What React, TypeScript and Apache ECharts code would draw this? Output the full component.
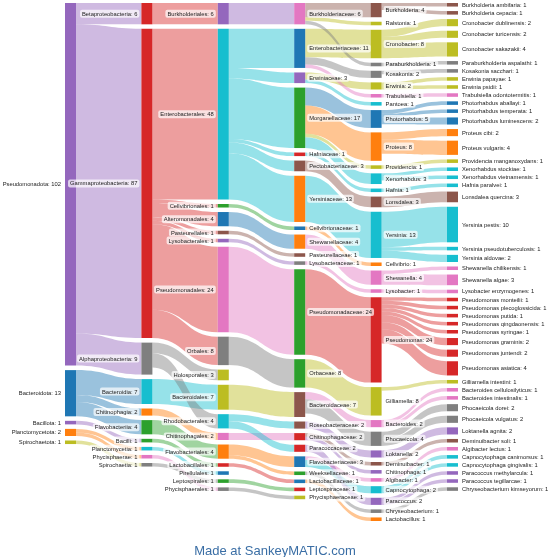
import React, { useEffect, useRef } from "react";
import * as echarts from "echarts";

type Flow = [string, string, number];

const phylumToClass: Flow[] = [
  ["Pseudomonadota", "Betaproteobacteria", 6],
  ["Pseudomonadota", "Gammaproteobacteria", 87],
  ["Pseudomonadota", "Alphaproteobacteria", 9],
  ["Bacteroidota", "Bacteroidia", 7],
  ["Bacteroidota", "Chitinophagia", 2],
  ["Bacteroidota", "Flavobacteriia", 4],
  ["Bacillota", "Bacilli", 1],
  ["Planctomycetota", "Planctomycetia", 1],
  ["Planctomycetota", "Phycisphaerae", 1],
  ["Spirochaetota", "Spirochaetia", 1],
];

const classToOrder: Flow[] = [
  ["Betaproteobacteria", "Burkholderiales", 6],
  ["Gammaproteobacteria", "Enterobacterales", 48],
  ["Gammaproteobacteria", "Cellvibrionales", 1],
  ["Gammaproteobacteria", "Alteromonadales", 4],
  ["Gammaproteobacteria", "Pasteurellales", 1],
  ["Gammaproteobacteria", "Lysobacterales", 1],
  ["Gammaproteobacteria", "Pseudomonadales", 24],
  ["Gammaproteobacteria", "Orbales", 8],
  ["Alphaproteobacteria", "Holosporales", 3],
  ["Bacteroidia", "Bacteroidales", 7],
  ["Alphaproteobacteria", "Rhodobacterales", 4],
  ["Chitinophagia", "Chitinophagales", 2],
  ["Flavobacteriia", "Flavobacteriales", 4],
  ["Bacilli", "Lactobacillales", 1],
  ["Planctomycetia", "Pirellulales", 1],
  ["Spirochaetia", "Leptospirales", 1],
  ["Phycisphaerae", "Phycisphaerales", 1],
];

const orderToFamily: Flow[] = [
  ["Burkholderiales", "Burkholderiaceae", 6],
  ["Enterobacterales", "Enterobacteriaceae", 11],
  ["Enterobacterales", "Erwiniaceae", 3],
  ["Enterobacterales", "Morganellaceae", 17],
  ["Enterobacterales", "Hafniaceae", 1],
  ["Enterobacterales", "Pectobacteriaceae", 3],
  ["Enterobacterales", "Yersiniaceae", 13],
  ["Cellvibrionales", "Cellvibrionaceae", 1],
  ["Alteromonadales", "Shewanellaceae", 4],
  ["Pasteurellales", "Pasteurellaceae", 1],
  ["Lysobacterales", "Lysobacteraceae", 1],
  ["Pseudomonadales", "Pseudomonadaceae", 24],
  ["Orbales", "Orbaceae", 8],
  ["Bacteroidales", "Bacteroidaceae", 7],
  ["Rhodobacterales", "Roseobacteraceae", 2],
  ["Chitinophagales", "Chitinophagaceae", 2],
  ["Rhodobacterales", "Paracoccaceae", 2],
  ["Flavobacteriales", "Flavobacteriaceae", 3],
  ["Flavobacteriales", "Weeksellaceae", 1],
  ["Lactobacillales", "Lactobacillaceae", 1],
  ["Leptospirales", "Leptospiraceae", 1],
  ["Phycisphaerales", "Phycisphaeraceae", 1],
];

const familyToGenus: Flow[] = [
  ["Burkholderiaceae", "Burkholderia", 4],
  ["Burkholderiaceae", "Ralstonia", 1],
  ["Enterobacteriaceae", "Cronobacter", 8],
  ["Burkholderiaceae", "Paraburkholderia", 1],
  ["Enterobacteriaceae", "Kosakonia", 2],
  ["Erwiniaceae", "Erwinia", 2],
  ["Enterobacteriaceae", "Trabulsiella", 1],
  ["Erwiniaceae", "Pantoea", 1],
  ["Morganellaceae", "Photorhabdus", 5],
  ["Morganellaceae", "Proteus", 8],
  ["Morganellaceae", "Providencia", 1],
  ["Morganellaceae", "Xenorhabdus", 3],
  ["Hafniaceae", "Hafnia", 1],
  ["Pectobacteriaceae", "Lonsdalea", 3],
  ["Yersiniaceae", "Yersinia", 13],
  ["Cellvibrionaceae", "Cellvibrio", 1],
  ["Shewanellaceae", "Shewanella", 4],
  ["Lysobacteraceae", "Lysobacter", 1],
  ["Pseudomonadaceae", "Pseudomonas", 24],
  ["Orbaceae", "Gilliamella", 8],
  ["Bacteroidaceae", "Bacteroides", 2],
  ["Bacteroidaceae", "Phocaeicola", 4],
  ["Roseobacteraceae", "Loktanella", 2],
  ["Chitinophagaceae", "Deminuibacter", 1],
  ["Chitinophagaceae", "Chitinophaga", 1],
  ["Flavobacteriaceae", "Algibacter", 1],
  ["Flavobacteriaceae", "Capnocytophaga", 2],
  ["Paracoccaceae", "Paracoccus", 2],
  ["Weeksellaceae", "Chryseobacterium", 1],
  ["Lactobacillaceae", "Lactobacillus", 1],
];

const genusToSpecies: Flow[] = [
  ["Burkholderia", "Burkholderia ambifaria", 1],
  ["Burkholderia", "Burkholderia cepacia", 1],
  ["Cronobacter", "Cronobacter dublinensis", 2],
  ["Cronobacter", "Cronobacter turicensis", 2],
  ["Cronobacter", "Cronobacter sakazakii", 4],
  ["Paraburkholderia", "Paraburkholderia aspalathi", 1],
  ["Kosakonia", "Kosakonia sacchari", 1],
  ["Erwinia", "Erwinia papayae", 1],
  ["Erwinia", "Erwinia psidii", 1],
  ["Trabulsiella", "Trabulsiella odontotermitis", 1],
  ["Photorhabdus", "Photorhabdus aballayi", 1],
  ["Photorhabdus", "Photorhabdus temperata", 1],
  ["Photorhabdus", "Photorhabdus luminescens", 2],
  ["Proteus", "Proteus cibi", 2],
  ["Proteus", "Proteus vulgaris", 4],
  ["Providencia", "Providencia manganoxydans", 1],
  ["Xenorhabdus", "Xenorhabdus stockiae", 1],
  ["Xenorhabdus", "Xenorhabdus vietnamensis", 1],
  ["Hafnia", "Hafnia paralvei", 1],
  ["Lonsdalea", "Lonsdalea quercina", 3],
  ["Yersinia", "Yersinia pestis", 10],
  ["Yersinia", "Yersinia pseudotuberculosis", 1],
  ["Yersinia", "Yersinia aldovae", 2],
  ["Shewanella", "Shewanella chilikensis", 1],
  ["Shewanella", "Shewanella algae", 3],
  ["Lysobacter", "Lysobacter enzymogenes", 1],
  ["Pseudomonas", "Pseudomonas monteilii", 1],
  ["Pseudomonas", "Pseudomonas plecoglossicida", 1],
  ["Pseudomonas", "Pseudomonas putida", 1],
  ["Pseudomonas", "Pseudomonas qingdaonensis", 1],
  ["Pseudomonas", "Pseudomonas syringae", 1],
  ["Pseudomonas", "Pseudomonas graminis", 2],
  ["Pseudomonas", "Pseudomonas juntendi", 2],
  ["Pseudomonas", "Pseudomonas asiatica", 4],
  ["Gilliamella", "Gilliamella intestini", 1],
  ["Bacteroides", "Bacteroides cellulosilyticus", 1],
  ["Bacteroides", "Bacteroides intestinalis", 1],
  ["Phocaeicola", "Phocaeicola dorei", 2],
  ["Phocaeicola", "Phocaeicola vulgatus", 2],
  ["Loktanella", "Loktanella agnita", 2],
  ["Deminuibacter", "Deminuibacter soli", 1],
  ["Algibacter", "Algibacter lectus", 1],
  ["Capnocytophaga", "Capnocytophaga canimorsus", 1],
  ["Capnocytophaga", "Capnocytophaga gingivalis", 1],
  ["Paracoccus", "Paracoccus methylarcula", 1],
  ["Paracoccus", "Paracoccus tegillarcae", 1],
  ["Chryseobacterium", "Chryseobacterium kimseyorum", 1],
];

const phyla = ["Pseudomonadota", "Bacteroidota", "Bacillota", "Planctomycetota", "Spirochaetota"];

// style tables (kept apart from the data)
const C = {
  blue: "#1f77b4", orange: "#ff7f0e", green: "#2ca02c", red: "#d62728", purple: "#9467bd",
  brown: "#8c564b", pink: "#e377c2", gray: "#7f7f7f", olive: "#bcbd22", cyan: "#17becf",
};
const nodeColor: Record<string, string> = {
  Pseudomonadota: C.purple, Bacteroidota: C.blue, Bacillota: C.purple, Planctomycetota: C.orange, Spirochaetota: C.olive,
  Betaproteobacteria: C.red, Gammaproteobacteria: C.red, Alphaproteobacteria: C.gray, Bacteroidia: C.cyan,
  Chitinophagia: C.orange, Flavobacteriia: C.green, Bacilli: C.green, Planctomycetia: C.cyan, Phycisphaerae: C.pink, Spirochaetia: C.gray,
  Burkholderiales: C.purple, Enterobacterales: C.cyan, Cellvibrionales: C.green, Alteromonadales: C.blue, Pasteurellales: C.brown,
  Lysobacterales: C.purple, Pseudomonadales: C.pink, Orbales: C.gray, Holosporales: C.olive, Bacteroidales: C.olive,
  Rhodobacterales: C.cyan, Chitinophagales: C.pink, Flavobacteriales: C.orange, Lactobacillales: C.red, Pirellulales: C.blue,
  Leptospirales: C.green, Phycisphaerales: C.gray,
  Burkholderiaceae: C.pink, Enterobacteriaceae: C.blue, Erwiniaceae: C.purple, Morganellaceae: C.green, Hafniaceae: C.red,
  Pectobacteriaceae: C.brown, Yersiniaceae: C.orange, Cellvibrionaceae: C.blue, Shewanellaceae: C.orange, Pasteurellaceae: C.brown,
  Lysobacteraceae: C.gray, Pseudomonadaceae: C.green, Orbaceae: C.green, Bacteroidaceae: C.brown, Roseobacteraceae: C.brown,
  Chitinophagaceae: C.red, Paracoccaceae: C.red, Flavobacteriaceae: C.blue, Weeksellaceae: C.green, Lactobacillaceae: C.blue,
  Leptospiraceae: C.red, Phycisphaeraceae: C.olive,
  Burkholderia: C.brown, Ralstonia: C.olive, Cronobacter: C.olive, Paraburkholderia: C.gray, Kosakonia: C.gray, Erwinia: C.olive,
  Trabulsiella: C.pink, Pantoea: C.cyan, Photorhabdus: C.blue, Proteus: C.orange, Providencia: C.olive, Xenorhabdus: C.cyan,
  Hafnia: C.cyan, Lonsdalea: C.brown, Yersinia: C.cyan, Cellvibrio: C.orange, Shewanella: C.pink, Lysobacter: C.pink,
  Pseudomonas: C.red, Gilliamella: C.olive, Bacteroides: C.pink, Phocaeicola: C.gray, Loktanella: C.purple,
  Deminuibacter: C.brown, Chitinophaga: C.purple, Algibacter: C.pink, Capnocytophaga: C.cyan, Paracoccus: C.purple,
  Chryseobacterium: C.gray, Lactobacillus: C.orange,
};

function buildSankey() {
  const allFlows = [...phylumToClass, ...classToOrder, ...orderToFamily, ...familyToGenus, ...genusToSpecies];
  const order: string[] = [...phyla];
  const inSum: Record<string, number> = {};
  const outSum: Record<string, number> = {};
  for (const [s, t, v] of allFlows) {
    if (!order.includes(s)) order.push(s);
    if (!order.includes(t)) order.push(t);
    outSum[s] = (outSum[s] || 0) + v;
    inSum[t] = (inSum[t] || 0) + v;
  }
  const colorOf: Record<string, string> = { ...nodeColor };
  for (const [g, s] of genusToSpecies) colorOf[s] = nodeColor[g];
  const nodes = order.map((name) => ({
    name,
    value: Math.max(inSum[name] || 0, outSum[name] || 0),
    itemStyle: { color: colorOf[name] || C.gray },
  }));
  const links = allFlows.map(([source, target, value]) => ({ source, target, value }));
  return { nodes, links };
}

export default function App() {
  const ref = useRef<HTMLDivElement>(null);
  useEffect(() => {
    if (!ref.current) return;
    const chart = echarts.init(ref.current, undefined, { renderer: "svg" });
    const { nodes, links } = buildSankey();
    const font = "'Liberation Sans', Arial, Helvetica, sans-serif";
    chart.setOption({
      animation: false,
      title: {
        text: "Made at SankeyMATIC.com",
        left: "center",
        top: 539,
        textStyle: { color: "#3a6ea5", fontSize: 13, fontWeight: "normal", fontFamily: font },
      },
      series: [
        {
          type: "sankey",
          left: 65,
          top: 3,
          width: 393,
          height: 518,
          nodeWidth: 11,
          nodeGap: 4.5,
          nodeAlign: "left",
          layoutIterations: 0,
          draggable: false,
          emphasis: { disabled: true },
          data: nodes,
          links,
          itemStyle: { borderWidth: 0 },
          lineStyle: { color: "source", opacity: 0.45, curveness: 0.5 },
          label: {
            show: true,
            formatter: "{b}: {c}",
            fontSize: 5.8,
            fontFamily: font,
            color: "#222",
            backgroundColor: "rgba(255,255,255,0.7)",
            padding: [1, 2],
            borderRadius: 2,
            distance: 2,
          },
          levels: [
            { depth: 0, label: { position: "left" } },
            { depth: 1, label: { position: "left" } },
            { depth: 2, label: { position: "left" } },
            { depth: 3, label: { position: "right" }, lineStyle: { color: "target" } },
            { depth: 4, label: { position: "right" }, lineStyle: { color: "target" } },
            { depth: 5, label: { position: "right" } },
          ],
        },
      ],
    });
    return () => chart.dispose();
  }, []);
  return <div ref={ref} style={{ position: "fixed", left: 0, top: 0, width: 550, height: 557 }} />;
}
